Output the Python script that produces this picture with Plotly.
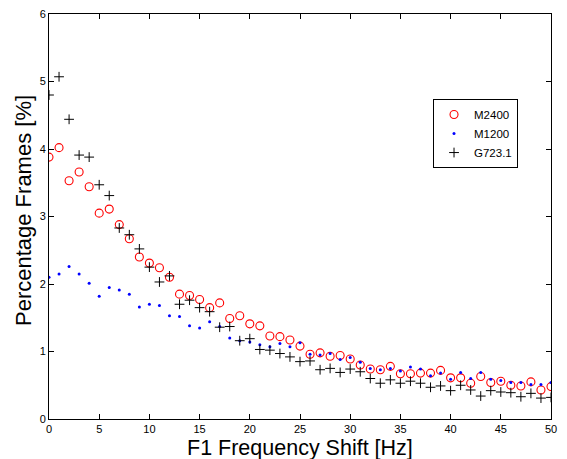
import plotly.graph_objects as go

freq = list(range(0, 51))

m2400 = [3.88, 4.02, 3.53, 3.66, 3.44, 3.05, 3.11, 2.88, 2.67, 2.40,
         2.31, 2.24, 2.10, 1.85, 1.83, 1.77, 1.65, 1.72, 1.49, 1.53,
         1.41, 1.38, 1.23, 1.22, 1.17, 1.08, 0.96, 0.98, 0.93, 0.94,
         0.89, 0.80, 0.74, 0.73, 0.78, 0.67, 0.67, 0.68, 0.68, 0.72,
         0.61, 0.61, 0.53, 0.63, 0.54, 0.56, 0.50, 0.49, 0.55, 0.43,
         0.48]

m1200 = [2.10, 2.15, 2.26, 2.15, 2.01, 1.82, 1.95, 1.91, 1.85, 1.66,
         1.70, 1.68, 1.53, 1.52, 1.38, 1.35, 1.44, 1.37, 1.20, 1.16,
         1.14, 1.10, 1.07, 1.12, 1.07, 1.13, 0.96, 0.95, 0.97, 0.88,
         0.91, 0.84, 0.75, 0.73, 0.75, 0.71, 0.77, 0.74, 0.64, 0.68,
         0.59, 0.69, 0.60, 0.69, 0.59, 0.57, 0.54, 0.54, 0.51, 0.51,
         0.54]

g7231 = [4.80, 5.07, 4.44, 3.91, 3.88, 3.47, 3.31, 2.83, 2.73, 2.52,
         2.25, 2.03, 2.12, 1.70, 1.76, 1.65, 1.59, 1.36, 1.37, 1.16,
         1.19, 1.03, 1.02, 0.97, 0.92, 0.85, 0.86, 0.73, 0.75, 0.69,
         0.74, 0.70, 0.60, 0.53, 0.58, 0.53, 0.56, 0.53, 0.47, 0.49,
         0.42, 0.50, 0.43, 0.34, 0.42, 0.40, 0.39, 0.33, 0.38, 0.31,
         0.32]

x_ticks = [0, 5, 10, 15, 20, 25, 30, 35, 40, 45, 50]
y_ticks = [0, 1, 2, 3, 4, 5, 6]

x_title = "F1 Frequency Shift [Hz]"
y_title = "Percentage Frames [%]"

FONT = "Liberation Sans, Arial, Helvetica, sans-serif"

fig = go.Figure()
fig.add_trace(go.Scatter(
    x=freq, y=m2400, mode="markers", name="M2400",
    marker=dict(symbol="circle-open", size=8, color="#ff0000",
                line=dict(width=1.1, color="#ff0000")),
))
fig.add_trace(go.Scatter(
    x=freq, y=m1200, mode="markers", name="M1200",
    marker=dict(symbol="circle", size=3, color="#0000ff"),
))
fig.add_trace(go.Scatter(
    x=freq, y=g7231, mode="markers", name="G723.1",
    marker=dict(symbol="cross-thin-open", size=7, color="#000000",
                line=dict(width=1, color="#000000")),
))

axis_common = dict(
    showgrid=False, zeroline=False, showline=True, linecolor="black",
    linewidth=1, mirror="ticks", ticks="inside", ticklen=5,
    tickcolor="black", tickfont=dict(family=FONT, size=11, color="black"),
    automargin=False,
)

fig.update_layout(
    width=567, height=459,
    margin=dict(l=49, r=16, t=14, b=40),
    paper_bgcolor="white", plot_bgcolor="white",
    font=dict(family=FONT, color="black"),
    xaxis=dict(range=[0, 50], tickvals=x_ticks, **axis_common),
    yaxis=dict(range=[0, 6], tickvals=y_ticks, **axis_common),
    legend=dict(x=0.765, y=0.79, xanchor="left", yanchor="top",
                bgcolor="white", bordercolor="black", borderwidth=1,
                font=dict(family=FONT, size=11.5, color="black"),
                itemwidth=30, tracegroupgap=0),
    showlegend=True,
    annotations=[
        dict(text=x_title, xref="paper", yref="paper", x=0.5, y=-0.0716,
             xanchor="center", yanchor="middle", showarrow=False,
             font=dict(family=FONT, size=21.5, color="black")),
        dict(text=y_title, xref="paper", yref="paper", x=-0.0518, y=0.516,
             xanchor="center", yanchor="middle", showarrow=False,
             textangle=-90,
             font=dict(family=FONT, size=22, color="black")),
    ],
)

fig.write_html("out.html",
               config={"displayModeBar": False},
               post_script="document.body.style.margin='0';"
                           "document.body.style.overflow='hidden';")
